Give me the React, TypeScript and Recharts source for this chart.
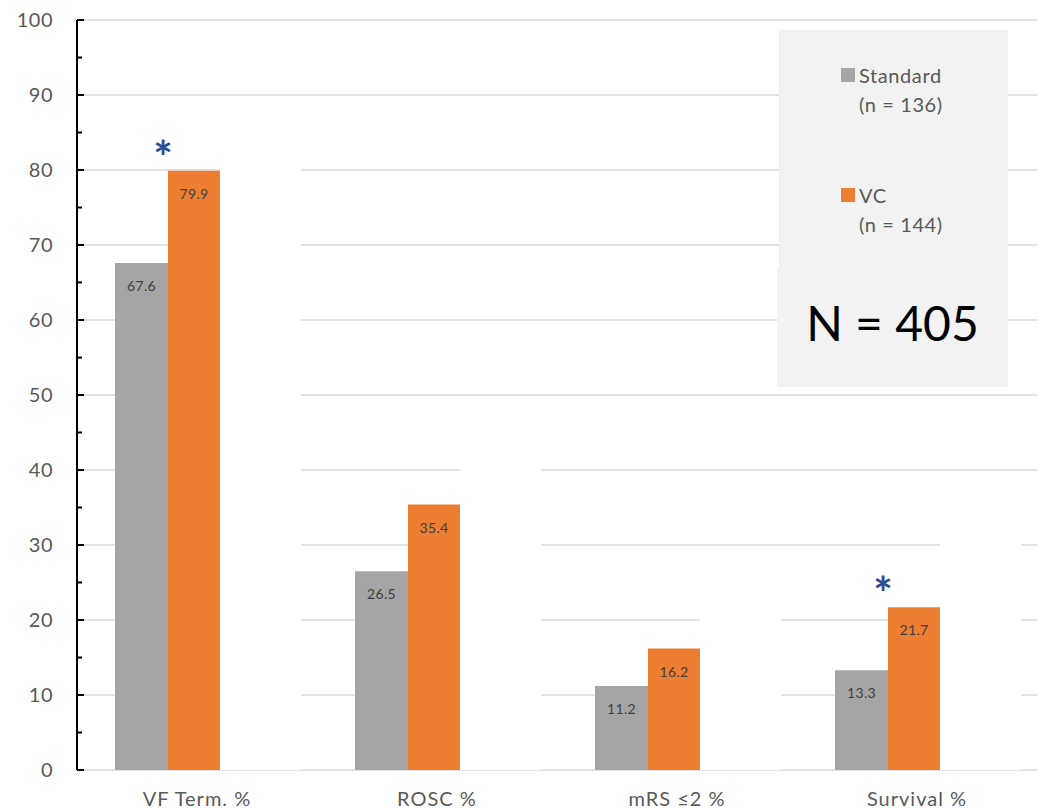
import React from "react";
import { BarChart, Bar, XAxis, YAxis, CartesianGrid, LabelList, Legend } from "recharts";

const categories = ["VF Term. %", "ROSC %", "mRS ≤2 %", "Survival %"];
const standardValues = [67.6, 26.5, 11.2, 13.3];
const vcValues = [79.9, 35.4, 16.2, 21.7];
const maskValues = [85, 45, 25, 35];
const sigMarks = ["*", "", "", "*"];
const majorTicks = [0, 10, 20, 30, 40, 50, 60, 70, 80, 90, 100];
const minorTicks = [5, 15, 25, 35, 45, 55, 65, 75, 85, 95];
const seriesNames = ["Standard", "VC"];
const seriesN = [136, 144];
const totalN = 405;

const GRAY = "#a5a5a5";
const ORANGE = "#ed7d31";
const FONT = "Lato, 'Noto Sans', sans-serif";

const data = categories.map((c, i) => ({
  category: c,
  standard: standardValues[i],
  vc: vcValues[i],
  mask: maskValues[i],
  sig: sigMarks[i],
}));

const allTicks = [...majorTicks, ...minorTicks].sort((a, b) => a - b);

const YTick = (props: any) => {
  const { x, y, payload } = props;
  const v = payload.value;
  const major = majorTicks.includes(v);
  return (
    <g>
      <line x1={x} x2={x + (major ? 7 : 5)} y1={y} y2={y} stroke="#000" strokeWidth={2} />
      {major && (
        <text x={x - 24} y={y} dy="0.36em" textAnchor="end" fontSize={20} letterSpacing={0.5} fill="#595959" fontFamily={FONT}>
          {v}
        </text>
      )}
    </g>
  );
};

const XTick = (props: any) => {
  const { x, y, payload } = props;
  return (
    <text x={x} y={y + 36} textAnchor="middle" fontSize={20} letterSpacing={1} fill="#595959" fontFamily={FONT}>
      {payload.value}
    </text>
  );
};

const ValueLabel = (props: any) => {
  const { x, y, width, value } = props;
  return (
    <text x={x + width / 2} y={y + 28} textAnchor="middle" fontSize={14} letterSpacing={0.3} fill="#404040" fontFamily={FONT}>
      {Number(value).toFixed(1)}
    </text>
  );
};

const SigLabel = (props: any) => {
  const { x, y, value } = props;
  if (!value) return null;
  return (
    <text x={x - 5} y={y + 3} textAnchor="middle" fontSize={46} fontWeight={700} fill="#2f4b8c" fontFamily={FONT}>
      {value}
    </text>
  );
};

const LegendBox = (props: any) => {
  const payload = ((props.payload || []) as any[]).filter((p) => seriesNames.includes(p.value));
  const itemTops = [38, 158];
  const textStyle: React.CSSProperties = {
    position: "absolute",
    left: 82,
    fontSize: 20,
    letterSpacing: 0.6,
    lineHeight: "24px",
    whiteSpace: "nowrap",
  };
  return (
    <div style={{ position: "relative", width: 231, height: 357, fontFamily: FONT, color: "#595959" }}>
      <div style={{ position: "absolute", left: 2, top: 0, width: 229, height: 237, background: "#f2f2f2" }} />
      <div style={{ position: "absolute", left: 0, top: 237, width: 231, height: 120, background: "#f2f2f2" }} />
      {payload.map((p, i) => {
        const idx = seriesNames.indexOf(p.value);
        const top = itemTops[i];
        return (
          <React.Fragment key={p.value}>
            <div style={{ position: "absolute", left: 64, top, width: 14, height: 14, background: p.color }} />
            <div style={{ ...textStyle, top: top - 5 }}>{p.value}</div>
            <div style={{ ...textStyle, top: top + 24 }}>(n = {seriesN[idx]})</div>
          </React.Fragment>
        );
      })}
      <div
        style={{
          position: "absolute",
          left: 0,
          width: 231,
          top: 263,
          textAlign: "center",
          fontSize: 48,
          lineHeight: "60px",
          color: "#000",
          whiteSpace: "nowrap",
        }}
      >
        N = {totalN}
      </div>
    </div>
  );
};

export default function App() {
  return (
    <div style={{ position: "absolute", left: 0, top: 0, width: 1038, height: 809, background: "#fff", fontFamily: FONT }}>
      <BarChart
        width={1038}
        height={809}
        data={data}
        margin={{ top: 20, right: 1, bottom: 0, left: 0 }}
        barGap={0}
      >
        <CartesianGrid vertical={false} horizontalValues={majorTicks} stroke="#d9d9d9" strokeWidth={1.5} />
        <XAxis
          dataKey="category"
          axisLine={false}
          tickLine={false}
          tickSize={0}
          tickMargin={0}
          height={39}
          interval={0}
          tick={<XTick />}
        />
        <YAxis
          type="number"
          domain={[0, 100]}
          ticks={allTicks}
          interval={0}
          width={77}
          tickSize={0}
          tickMargin={0}
          tickLine={false}
          axisLine={{ stroke: "#000", strokeWidth: 2 }}
          tick={<YTick />}
        />
        <Bar dataKey="spacer" barSize={22} fill="none" legendType="none" isAnimationActive={false} />
        <Bar dataKey="standard" name={seriesNames[0]} barSize={53} fill={GRAY} isAnimationActive={false}>
          <LabelList dataKey="standard" content={<ValueLabel />} />
        </Bar>
        <Bar dataKey="vc" name={seriesNames[1]} barSize={52} fill={ORANGE} isAnimationActive={false}>
          <LabelList dataKey="vc" content={<ValueLabel />} />
          <LabelList dataKey="sig" content={<SigLabel />} />
        </Bar>
        <Bar dataKey="mask" barSize={81} fill="#ffffff" legendType="none" isAnimationActive={false} />
        <Legend
          layout="vertical"
          align="center"
          verticalAlign="middle"
          wrapperStyle={{ left: 777, top: 30, width: 231, height: 357 }}
          content={<LegendBox />}
        />
      </BarChart>
    </div>
  );
}
